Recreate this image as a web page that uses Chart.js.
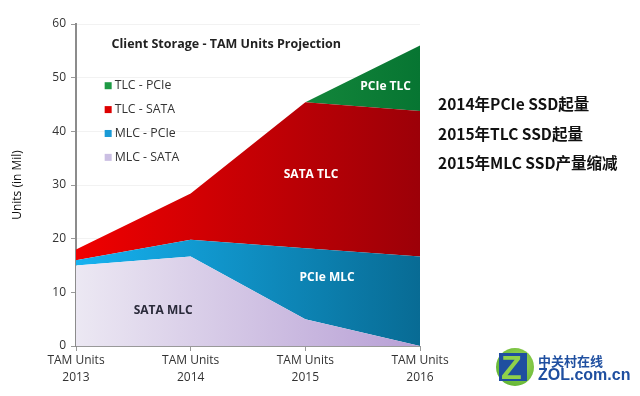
<!DOCTYPE html>
<html>
<head>
<meta charset="utf-8">
<script src="https://cdn.jsdelivr.net/npm/chart.js@4"></script>
<style>
  html, body { margin: 0; padding: 0; background: #fff; }
  #wrap { position: relative; width: 640px; height: 396px; overflow: hidden; }
  #notes { position: absolute; left: 438px; top: 89px; font-family: "Noto Sans CJK SC", sans-serif;
           font-size: 15.5px; line-height: 29.5px; color: #111; font-weight: 700; }
  #logo { position: absolute; left: 494px; top: 346px; width: 140px; height: 44px; }
  #logo .circle { position: absolute; left: 2px; top: 2px; width: 38px; height: 38px; border-radius: 50%;
                  background: radial-gradient(circle at 60% 40%, #a8dc5a, #4aa829); }
  #logo .sq { position: absolute; left: 5px; top: 7px; width: 28px; height: 28px; background: #1f4fa0; }
  #logo .z { position: absolute; left: 7px; top: 2px; font: bold 34px "Liberation Sans", sans-serif; color: #8fd14a; }
  #logo .cn { position: absolute; left: 44px; top: 5px; font: bold 13px "Noto Sans CJK SC", sans-serif; color: #1f4fa0; }
  #logo .en { position: absolute; left: 44px; top: 20px; font: bold 16px "Liberation Sans", sans-serif; color: #1f4fa0; }
</style>
</head>
<body>
<div id="wrap">
  <canvas id="storageChart" width="640" height="396"></canvas>
  <div id="notes">2014年PCIe SSD起量<br>2015年TLC SSD起量<br>2015年MLC SSD产量缩减</div>
  <div id="logo">
    <div class="circle"></div><div class="sq"></div><div class="z">Z</div>
    <div class="cn">中关村在线</div>
    <div class="en">ZOL.com.cn</div>
  </div>
</div>
<script>
// stacked area: client SSD units by year
const years = [["TAM Units", "2013"], ["TAM Units", "2014"], ["TAM Units", "2015"], ["TAM Units", "2016"]];

const mlcSata = [15, 16.7, 5, 0];
const mlcPcie = [1, 3.1, 13.2, 16.7];
const tlcSata = [2, 8.6, 27.2, 27.1];
const tlcPcie = [0, 0, 0, 12.2];

const yTicks = [0, 10, 20, 30, 40, 50, 60];

const legendNames = ["TLC - PCIe", "TLC - SATA", "MLC - PCIe", "MLC - SATA"];
const legendColors = ["#1e9a45", "#dd0000", "#1a9ad6", "#cbbfe3"];

function grad(c1, c2) {
  return (context) => {
    const area = context.chart.chartArea;
    if (!area) return c1;
    const g = context.chart.ctx.createLinearGradient(area.left, 0, area.right, 0);
    g.addColorStop(0, c1);
    g.addColorStop(1, c2);
    return g;
  };
}

const fontFam = "'Open Sans', sans-serif";

const overlay = {
  id: "overlay",
  afterDatasetsDraw(chart) {
    const { ctx, scales: { x, y } } = chart;
    ctx.save();
    ctx.textBaseline = "middle";
    // title
    ctx.fillStyle = "#222";
    ctx.font = "bold 12.5px " + fontFam;
    ctx.textAlign = "left";
    ctx.fillText("Client Storage - TAM Units Projection", x.getPixelForValue(0.31), y.getPixelForValue(56.1));
    // legend
    ctx.font = "12.3px " + fontFam;
    legendNames.forEach((name, i) => {
      const py = y.getPixelForValue(48.5 - i * 4.45);
      const px = x.getPixelForValue(0.25);
      ctx.fillStyle = legendColors[i];
      ctx.fillRect(px, py - 3.5, 7, 7);
      ctx.fillStyle = "#333";
      ctx.fillText(name, px + 10, py);
    });
    // area labels
    ctx.textAlign = "center";
    ctx.font = "bold 12px " + fontFam;
    ctx.fillStyle = "#fff";
    ctx.fillText("PCIe TLC", x.getPixelForValue(2.7), y.getPixelForValue(48.4));
    ctx.fillText("SATA TLC", x.getPixelForValue(2.05), y.getPixelForValue(31.9));
    ctx.fillText("PCIe MLC", x.getPixelForValue(2.19), y.getPixelForValue(12.7));
    ctx.fillStyle = "#2a2a3a";
    ctx.fillText("SATA MLC", x.getPixelForValue(0.76), y.getPixelForValue(6.6));
    ctx.restore();
  }
};

const ctx = document.getElementById("storageChart");

new Chart(ctx, {
  type: "line",
  data: {
    labels: years,
    datasets: [
      { label: "MLC - SATA", data: mlcSata, fill: "origin", backgroundColor: grad("#ece8f3", "#b79fd5") },
      { label: "MLC - PCIe", data: mlcPcie, fill: "-1", backgroundColor: grad("#16b2f0", "#086b94") },
      { label: "TLC - SATA", data: tlcSata, fill: "-1", backgroundColor: grad("#f00000", "#9c0008") },
      { label: "TLC - PCIe", data: tlcPcie, fill: "-1", backgroundColor: grad("#2aa84c", "#077532") }
    ].map(d => Object.assign(d, { borderWidth: 0, pointRadius: 0, tension: 0 }))
  },
  options: {
    responsive: false,
    animation: false,
    layout: { padding: { left: 0, right: 220, top: 24, bottom: 0 } },
    plugins: { legend: { display: false }, tooltip: { enabled: false } },
    scales: {
      x: {
        offset: false,
        grid: { drawOnChartArea: false, tickLength: 5, tickColor: "#999" },
        border: { color: "#999", width: 1 },
        ticks: { color: "#333", font: { family: fontFam, size: 12, lineHeight: 1.4 }, maxRotation: 0, padding: 1 },
        afterFit(s) { s.height = 50; }
      },
      y: {
        stacked: true,
        min: 0,
        max: 60,
        afterBuildTicks(s) { s.ticks = yTicks.map(v => ({ value: v })); },
        grid: { color: "#f2f2f2", tickLength: 5, tickColor: "#999" },
        border: { color: "#8c8c8c", width: 2 },
        ticks: { color: "#333", font: { family: fontFam, size: 12 }, padding: 5 },
        title: { display: true, text: "Units (in Mil)", color: "#111", font: { family: fontFam, size: 12 }, padding: { top: 10, bottom: 4 } },
        afterFit(s) { s.width = 76; }
      }
    }
  },
  plugins: [overlay]
});
</script>
</body>
</html>
